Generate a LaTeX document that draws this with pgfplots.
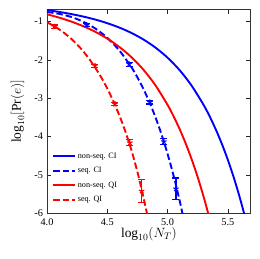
\documentclass[border=0pt]{standalone}
\usepackage{fix-cm}
\usepackage{fontspec}
\setmainfont{Liberation Serif}
\usepackage{pgfplots}
\pgfplotsset{compat=1.18}
\usetikzlibrary{plotmarks}
\begin{document}
\begin{tikzpicture}
\path[use as bounding box] (-47bp,-45.7bp) rectangle (213bp,213.3bp);
\begin{axis}[
  at={(0,0)}, anchor=south west,
  scale only axis, width=203.7bp, height=204bp,
  xmin=4.0, xmax=5.69, ymin=-6, ymax=-0.68,
  xtick={4.0,4.5,5.0,5.5}, xticklabels={4.0,4.5,5.0,5.5},
  ytick={-6,-5,-4,-3,-2,-1}, yticklabels={-6,-5,-4,-3,-2,-1},
  tick align=inside, major tick length=4.5bp,
  tick style={line width=0.6pt, black!85},
  axis line style={line width=0.8pt, black!80},
  ticklabel style={font=\fontsize{10.3}{12}\selectfont},
  xticklabel style={yshift=-1.6bp},
  yticklabel style={xshift=-0.5bp},
  xlabel={$\log_{10}(N_T)$},
  ylabel={$\log_{10}[\mathrm{Pr}(e)]$},
  every axis x label/.style={at={(axis description cs:0.5,-0.1)},anchor=center,font=\fontsize{13.5}{15}\selectfont},
  every axis y label/.style={at={(axis description cs:-0.145,0.5)},rotate=90,anchor=center,font=\fontsize{13.5}{15}\selectfont},
  legend style={draw=none, fill=none, at={(axis description cs:0.02,0.312)}, anchor=north west,
    font=\fontsize{8.2}{9.5}\selectfont, row sep=3.6pt, inner sep=1pt},
  legend cell align=left,
  legend image code/.code={\draw[#1] plot coordinates {(0bp,0bp) (21.7bp,0bp)};},
  clip=true,
]
\addplot[blue, line width=1.9pt, smooth] coordinates {
(4.0,-0.700)(4.1,-0.748)(4.2,-0.803)(4.3,-0.869)(4.4,-0.947)(4.5,-1.042)(4.6,-1.156)(4.7,-1.296)(4.8,-1.467)(4.9,-1.679)(5.0,-1.941)(5.1,-2.266)(5.2,-2.672)(5.3,-3.178)(5.35,-3.476)(5.4,-3.811)(5.45,-4.184)(5.5,-4.603)(5.55,-5.071)(5.6,-5.596)(5.65,-6.184)(5.7,-6.842)};
\addlegendentry{non-seq. CI}
\addplot[blue, line width=1.9pt, dash pattern=on 6.5pt off 3pt, smooth] coordinates {
(4.0,-0.750)(4.1,-0.798)(4.2,-0.879)(4.3,-1.003)(4.4,-1.180)(4.5,-1.424)(4.6,-1.753)(4.7,-2.189)(4.75,-2.454)(4.8,-2.758)(4.85,-3.103)(4.9,-3.496)(4.95,-3.941)(5.0,-4.446)(5.05,-5.017)(5.1,-5.663)(5.15,-6.394)};
\addlegendentry{seq. CI}
\addplot[red, line width=1.9pt, smooth] coordinates {
(4.0,-0.810)(4.1,-0.896)(4.2,-0.998)(4.3,-1.120)(4.4,-1.266)(4.5,-1.444)(4.6,-1.661)(4.7,-1.927)(4.8,-2.256)(4.9,-2.664)(5.0,-3.171)(5.05,-3.469)(5.1,-3.802)(5.15,-4.174)(5.2,-4.590)(5.25,-5.055)(5.3,-5.575)(5.35,-6.157)(5.4,-6.809)};
\addlegendentry{non-seq. QI}
\addplot[red, line width=1.9pt, dash pattern=on 6.5pt off 3pt, smooth] coordinates {
(4.0,-1.020)(4.05,-1.103)(4.1,-1.201)(4.15,-1.314)(4.2,-1.446)(4.25,-1.598)(4.3,-1.773)(4.35,-1.974)(4.4,-2.203)(4.45,-2.455)(4.5,-2.745)(4.55,-3.075)(4.6,-3.445)(4.65,-3.865)(4.7,-4.350)(4.75,-4.920)(4.8,-5.580)(4.85,-6.308)};
\addlegendentry{seq. QI}
\addplot[blue, only marks, mark=star, mark size=2.8pt, line width=1.1pt, forget plot,
  error bars/.cd, y dir=both, y explicit, error bar style={line width=1.1pt},
  error mark options={rotate=90, mark size=3.5pt, line width=1.1pt}]
  coordinates {
(4.329,-1.087) +- (0,0.04)
(4.682,-2.11) +- (0,0.05)
(4.854,-3.10) +- (0,0.05)
(4.97,-4.13) +- (0,0.08)
(5.07,-5.36) +- (0,0.28)};
\addplot[red, only marks, mark=star, mark size=2.8pt, line width=1.1pt, forget plot,
  error bars/.cd, y dir=both, y explicit, error bar style={line width=1.1pt},
  error mark options={rotate=90, mark size=3.5pt, line width=1.1pt}]
  coordinates {
(4.061,-1.13) +- (0,0.04)
(4.398,-2.15) +- (0,0.04)
(4.564,-3.15) +- (0,0.05)
(4.688,-4.16) +- (0,0.08)
(4.785,-5.42) +- (0,0.31)};
\end{axis}
\end{tikzpicture}
\end{document}
